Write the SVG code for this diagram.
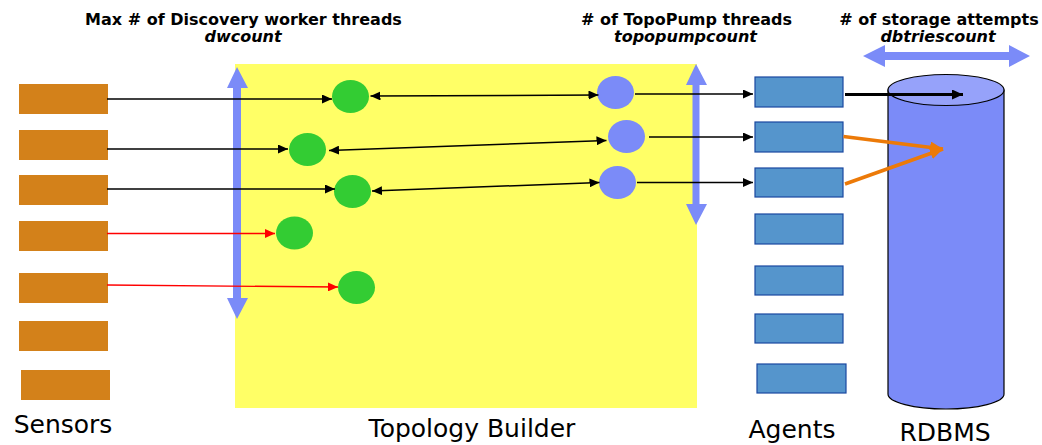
<svg xmlns="http://www.w3.org/2000/svg" width="1042" height="445" viewBox="0 0 1042 445">
  <style>
    .sensor { fill: #D3811A; }
    .worker { fill: #33CC33; }
    .pump { fill: #7B8BF8; }
    .agent { fill: #5595CC; stroke: #1A48A0; stroke-width: 1.2; }
    .ind { fill: #7B8BF8; }
    .hdr { font-family: "DejaVu Sans", Verdana, sans-serif; font-size: 16px; font-weight: bold; text-anchor: middle; fill: #000; }
    .hdr-i { font-style: italic; }
    .lbl { font-family: "DejaVu Sans", Verdana, sans-serif; font-size: 25px; fill: #000; }
    .ln { fill: none; stroke: #000; stroke-width: 1.5; }
    .ln-red { fill: none; stroke: #FF0000; stroke-width: 1.3; }
    .ln-db { fill: none; stroke: #000; stroke-width: 3; }
    .ln-or { fill: none; stroke: #EC7A08; stroke-width: 3.5; }
  </style>
  <defs>
    <marker id="ah" markerUnits="userSpaceOnUse" markerWidth="10" markerHeight="9" refX="10" refY="4.5" orient="auto-start-reverse">
      <path d="M0,0 L10,4.5 L0,9 Z" fill="#000"/>
    </marker>
    <marker id="ah-red" markerUnits="userSpaceOnUse" markerWidth="10" markerHeight="9" refX="10" refY="4.5" orient="auto">
      <path d="M0,0 L10,4.5 L0,9 Z" fill="#FF0000"/>
    </marker>
    <marker id="ah-db" markerUnits="userSpaceOnUse" markerWidth="11" markerHeight="10" refX="11" refY="5" orient="auto">
      <path d="M0,0 L11,5 L0,10 Z" fill="#000"/>
    </marker>
    <marker id="ah-or" markerUnits="userSpaceOnUse" markerWidth="13" markerHeight="12" refX="13" refY="6" orient="auto">
      <path d="M0,0 L13,6 L0,12 Z" fill="#EC7A08"/>
    </marker>
  </defs>

  <rect width="1042" height="445" fill="#FFFFFF"/>

  <!-- Topology Builder area -->
  <g id="topology-builder">
    <rect x="235" y="64" width="462" height="344" fill="#FFFF66"/>
    <text class="lbl" x="472" y="437" text-anchor="middle">Topology Builder</text>
  </g>

  <!-- Sensors -->
  <g id="sensors">
    <rect id="sensor-1" class="sensor" x="19" y="84" width="89" height="30"/>
    <rect id="sensor-2" class="sensor" x="19" y="130" width="89" height="30"/>
    <rect id="sensor-3" class="sensor" x="19" y="175" width="89" height="30"/>
    <rect id="sensor-4" class="sensor" x="19" y="221" width="89" height="30"/>
    <rect id="sensor-5" class="sensor" x="19" y="273" width="89" height="30"/>
    <rect id="sensor-6" class="sensor" x="19" y="321" width="89" height="30"/>
    <rect id="sensor-7" class="sensor" x="21" y="370" width="89" height="30"/>
    <text class="lbl" x="63" y="433" text-anchor="middle">Sensors</text>
  </g>

  <!-- Discovery worker threads -->
  <g id="workers">
    <ellipse id="worker-1" class="worker" cx="350.5" cy="96.5" rx="18.5" ry="16.5"/>
    <ellipse id="worker-2" class="worker" cx="307.5" cy="149.5" rx="18.5" ry="16.5"/>
    <ellipse id="worker-3" class="worker" cx="352.5" cy="191.5" rx="18.5" ry="16.5"/>
    <ellipse id="worker-4" class="worker" cx="294.5" cy="233" rx="18.5" ry="16.5"/>
    <ellipse id="worker-5" class="worker" cx="356.5" cy="287.5" rx="18.5" ry="16.5"/>
  </g>

  <!-- TopoPump threads -->
  <g id="pumps">
    <ellipse id="pump-1" class="pump" cx="615.5" cy="92.5" rx="18.5" ry="16.5"/>
    <ellipse id="pump-2" class="pump" cx="626.5" cy="136.5" rx="18.5" ry="16.5"/>
    <ellipse id="pump-3" class="pump" cx="617.5" cy="182.5" rx="18.5" ry="16.5"/>
  </g>

  <!-- Agents -->
  <g id="agents">
    <rect id="agent-1" class="agent" x="755" y="77" width="88" height="30"/>
    <rect id="agent-2" class="agent" x="755" y="122" width="88" height="30"/>
    <rect id="agent-3" class="agent" x="755" y="168" width="88" height="29"/>
    <rect id="agent-4" class="agent" x="755" y="214" width="88" height="30"/>
    <rect id="agent-5" class="agent" x="755" y="266" width="88" height="29"/>
    <rect id="agent-6" class="agent" x="755" y="314" width="88" height="29"/>
    <rect id="agent-7" class="agent" x="757" y="364" width="89" height="29"/>
    <text class="lbl" x="792" y="438" text-anchor="middle">Agents</text>
  </g>

  <!-- RDBMS cylinder -->
  <g id="rdbms">
    <path d="M888,90 L888,394 A58,15 0 0 0 1004,394 L1004,90 Z" fill="#7B8BF8" stroke="#000" stroke-width="1.2"/>
    <ellipse cx="946" cy="90" rx="58" ry="15.5" fill="#96A2FA" stroke="#000" stroke-width="1.2"/>
    <text class="lbl" x="945" y="441" text-anchor="middle">RDBMS</text>
  </g>

  <!-- Thread count indicators -->
  <g id="indicators">
    <path class="ind" d="M237,67 L248,88 L241,88 L241,298 L248,298 L237,319 L227,298 L233,298 L233,88 L227,88 Z"/>
    <path class="ind" d="M696,64 L707,85 L699.5,85 L699.5,204 L707,204 L696,225 L686,204 L692.5,204 L692.5,85 L686,85 Z"/>
    <path class="ind" d="M863,56 L885,45 L885,52 L1009,52 L1009,45 L1030,56 L1009,67 L1009,60 L885,60 L885,67 Z"/>
  </g>

  <!-- Headers -->
  <g id="headers">
    <text class="hdr" x="243.5" y="25">Max # of Discovery worker threads</text>
    <text class="hdr hdr-i" x="243" y="42">dwcount</text>
    <text class="hdr" x="686.5" y="25"># of TopoPump threads</text>
    <text class="hdr hdr-i" x="685.5" y="42">topopumpcount</text>
    <text class="hdr" x="939" y="25"># of storage attempts</text>
    <text class="hdr hdr-i" x="938" y="42">dbtriescount</text>
  </g>

  <!-- Connectors -->
  <g id="connectors">
    <!-- sensors to workers -->
    <line class="ln" x1="107" y1="99" x2="332" y2="99" marker-end="url(#ah)"/>
    <line class="ln" x1="107" y1="149" x2="288" y2="149" marker-end="url(#ah)"/>
    <line class="ln" x1="107" y1="189" x2="335" y2="189" marker-end="url(#ah)"/>
    <line class="ln-red" x1="107" y1="233.5" x2="275" y2="233.5" marker-end="url(#ah-red)"/>
    <line class="ln-red" x1="107" y1="285" x2="338" y2="287" marker-end="url(#ah-red)"/>
    <!-- workers to pumps -->
    <line class="ln" x1="370.5" y1="96" x2="598.5" y2="95" marker-start="url(#ah)" marker-end="url(#ah)"/>
    <line class="ln" x1="329" y1="150.5" x2="606.5" y2="140.5" marker-start="url(#ah)" marker-end="url(#ah)"/>
    <line class="ln" x1="372" y1="191" x2="599.5" y2="182.5" marker-start="url(#ah)" marker-end="url(#ah)"/>
    <!-- pumps to agents -->
    <line class="ln" x1="635" y1="94" x2="753" y2="94" marker-end="url(#ah)"/>
    <line class="ln" x1="649" y1="137" x2="753" y2="137" marker-end="url(#ah)"/>
    <line class="ln" x1="637" y1="182.5" x2="753" y2="182.5" marker-end="url(#ah)"/>
    <!-- agents to RDBMS -->
    <line class="ln-db" x1="845" y1="94.5" x2="963" y2="94.5" marker-end="url(#ah-db)"/>
    <line class="ln-or" x1="843.5" y1="136.5" x2="943" y2="149" marker-end="url(#ah-or)"/>
    <line class="ln-or" x1="845" y1="184" x2="943" y2="149" marker-end="url(#ah-or)"/>
  </g>
</svg>
